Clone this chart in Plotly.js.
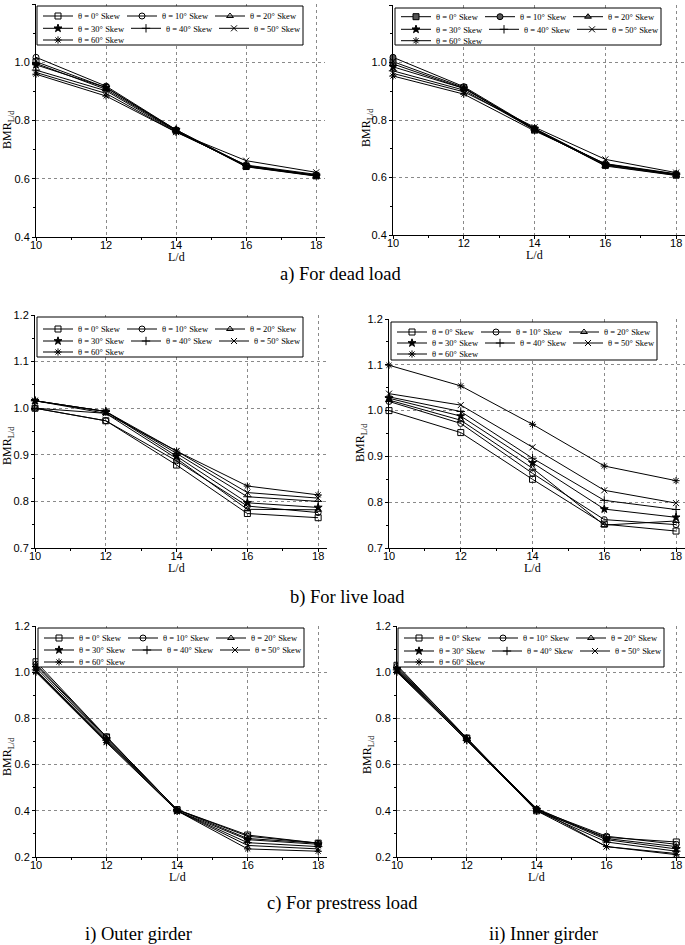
<!DOCTYPE html>
<html><head><meta charset="utf-8">
<script src="https://cdn.plot.ly/plotly-3.0.1.min.js"></script>
<style>html,body{margin:0;padding:0;background:#fff}#chart{width:685px;height:945px}</style>
</head><body><div id="chart"></div>
<script>
// ---------------- DATA ----------------
const ld = [10, 12, 14, 16, 18];
const skewLabels = ['θ = 0° Skew', 'θ = 10° Skew', 'θ = 20° Skew', 'θ = 30° Skew', 'θ = 40° Skew', 'θ = 50° Skew', 'θ = 60° Skew'];
const xTitle = 'L/d';
const yTitle = 'BMR<sub>L/d</sub>';
const captionA = 'a) For dead load';
const captionB = 'b) For live load';
const captionC = 'c) For prestress load';
const captionOuter = 'i) Outer girder';
const captionInner = 'ii) Inner girder';

// rows: 0°,10°,20°,30°,40°,50°,60° ; columns: L/d = 10,12,14,16,18
const deadOuter = [
  [1.002, 0.913, 0.765, 0.642, 0.610],
  [1.017, 0.918, 0.768, 0.645, 0.612],
  [0.996, 0.907, 0.765, 0.641, 0.609],
  [0.991, 0.913, 0.768, 0.643, 0.611],
  [0.973, 0.902, 0.762, 0.645, 0.612],
  [0.965, 0.893, 0.760, 0.662, 0.622],
  [0.959, 0.884, 0.760, 0.647, 0.615]
];
const deadInner = [
  [1.003, 0.913, 0.765, 0.642, 0.608],
  [1.018, 0.916, 0.770, 0.645, 0.611],
  [0.995, 0.910, 0.768, 0.640, 0.607],
  [0.985, 0.910, 0.770, 0.645, 0.610],
  [0.971, 0.904, 0.766, 0.647, 0.611],
  [0.962, 0.898, 0.775, 0.663, 0.617],
  [0.953, 0.890, 0.762, 0.648, 0.613]
];
const liveOuter = [
  [1.000, 0.973, 0.878, 0.774, 0.765],
  [1.000, 0.973, 0.887, 0.790, 0.776],
  [1.000, 0.989, 0.892, 0.783, 0.782],
  [1.016, 0.993, 0.897, 0.797, 0.787],
  [1.016, 0.993, 0.903, 0.810, 0.800],
  [1.016, 0.989, 0.908, 0.819, 0.807],
  [1.016, 0.993, 0.908, 0.833, 0.814]
];
const liveInner = [
  [1.000, 0.952, 0.850, 0.752, 0.737],
  [1.020, 0.972, 0.863, 0.762, 0.751],
  [1.023, 0.979, 0.874, 0.750, 0.759],
  [1.027, 0.988, 0.886, 0.785, 0.767],
  [1.030, 0.998, 0.896, 0.804, 0.784],
  [1.037, 1.012, 0.920, 0.826, 0.798],
  [1.099, 1.054, 0.970, 0.879, 0.847]
];
const prestressOuter = [
  [1.045, 0.720, 0.405, 0.295, 0.260],
  [1.035, 0.720, 0.405, 0.290, 0.260],
  [1.030, 0.715, 0.405, 0.280, 0.260],
  [1.020, 0.710, 0.400, 0.275, 0.255],
  [1.010, 0.705, 0.400, 0.262, 0.245],
  [1.005, 0.700, 0.400, 0.250, 0.235],
  [1.000, 0.695, 0.400, 0.235, 0.225]
];
const prestressInner = [
  [1.030, 0.715, 0.400, 0.285, 0.265],
  [1.025, 0.715, 0.405, 0.290, 0.255],
  [1.020, 0.710, 0.410, 0.280, 0.245],
  [1.015, 0.710, 0.405, 0.275, 0.235],
  [1.010, 0.705, 0.400, 0.265, 0.225],
  [1.005, 0.705, 0.410, 0.245, 0.215],
  [1.000, 0.705, 0.400, 0.245, 0.210]
];

// ---------------- STYLE / LAYOUT ----------------
const W = 685, H = 945;
const SERIF = 'Liberation Serif, Times New Roman, serif';
const SANS = 'Liberation Sans, Arial, sans-serif';
const LEG_SIZE = 8.5;
const openSymbols = ['square-open', 'circle-open', 'triangle-up-open', 'star', 'cross-thin-open', 'x-thin-open', 'asterisk-open'];
const filledSymbols = ['square', 'circle', 'triangle-up', 'star', 'cross-thin-open', 'x-thin-open', 'asterisk-open'];

// pixel geometry of each panel: plot area, legend box, legend rows, axis-title spots
const panels = [
  {data: deadOuter,      yr: [0.4, 1.2], dy: 0.2, px: [36, 325],  py: [4, 237],   box: [37, 6, 45],    rows: [16, 28.3, 40],    sym: openSymbols,   xt: 257, yt: [8, 130]},
  {data: deadInner,      yr: [0.4, 1.2], dy: 0.2, px: [393, 685], py: [5, 235],   box: [395, 8, 45],   rows: [16.7, 29.3, 40.7], sym: filledSymbols, xt: 255, yt: [367, 128]},
  {data: liveOuter,      yr: [0.7, 1.2], dy: 0.1, px: [35, 327],  py: [315, 548], box: [37, 317, 357], rows: [329, 341, 352],   sym: openSymbols,   xt: 568, yt: [8, 446]},
  {data: liveInner,      yr: [0.7, 1.2], dy: 0.1, px: [389, 685], py: [319, 548], box: [391, 322, 360], rows: [332, 343, 354],   sym: openSymbols,   xt: 568, yt: [361, 442]},
  {data: prestressOuter, yr: [0.2, 1.2], dy: 0.2, px: [36, 327],  py: [626, 857], box: [38, 628, 667], rows: [638, 650, 662],   sym: openSymbols,   xt: 877, yt: [8, 757]},
  {data: prestressInner, yr: [0.2, 1.2], dy: 0.2, px: [397, 685], py: [626, 857], box: [398, 628, 667], rows: [638, 651, 662],  sym: openSymbols,   xt: 877, yt: [368, 755]}
];

const measureCtx = document.createElement('canvas').getContext('2d');
measureCtx.font = LEG_SIZE + 'px "Liberation Serif"';
const textW = s => measureCtx.measureText(s).width;

const traces = [];
const layout = {
  width: W, height: H,
  margin: {l: 0, r: 0, t: 0, b: 0},
  paper_bgcolor: 'white', plot_bgcolor: 'white',
  font: {family: SANS, color: 'black'},
  showlegend: true,
  shapes: [], annotations: []
};

let legendCount = 0;
const panelLegends = [];
panels.forEach((p, i) => {
  const n = i + 1;
  const xa = 'xaxis' + (n === 1 ? '' : n), ya = 'yaxis' + (n === 1 ? '' : n);
  const xr = 'x' + (n === 1 ? '' : n), yr = 'y' + (n === 1 ? '' : n);
  layout[xa] = {
    domain: [p.px[0] / W, Math.min(1, p.px[1] / W)],
    range: [10, 18.25], anchor: yr,
    tickmode: 'linear', tick0: 10, dtick: 2,
    ticks: 'outside', ticklen: 3, tickcolor: 'black', ticklabelstandoff: -5,
    minor: {dtick: 1, ticks: 'outside', ticklen: 2, tickcolor: 'black', showgrid: false},
    showline: true, linecolor: 'black', linewidth: 1,
    showgrid: true, gridcolor: '#8a8a8a', griddash: 'dot', gridwidth: 1,
    zeroline: false, automargin: false,
    tickfont: {family: SANS, size: 11, color: 'black'}
  };
  layout[ya] = {
    domain: [1 - p.py[1] / H, 1 - p.py[0] / H],
    range: p.yr, anchor: xr,
    tickmode: 'linear', tick0: p.yr[0], dtick: p.dy, tickformat: '.1f',
    ticks: 'outside', ticklen: 3, tickcolor: 'black',
    minor: {dtick: p.dy / 2, ticks: 'outside', ticklen: 2, tickcolor: 'black', showgrid: false},
    showline: true, linecolor: 'black', linewidth: 1,
    showgrid: true, gridcolor: '#8a8a8a', griddash: 'dot', gridwidth: 1,
    zeroline: false, automargin: false,
    tickfont: {family: SANS, size: 11, color: 'black'}
  };
  // axis titles
  layout.annotations.push({
    text: xTitle, xref: xr, yref: 'paper', x: 14, y: 1 - p.xt / H,
    xanchor: 'center', yanchor: 'middle', showarrow: false,
    font: {family: SERIF, size: 12, color: 'black'}
  });
  layout.annotations.push({
    text: yTitle, xref: 'paper', yref: 'paper', x: p.yt[0] / W, y: 1 - p.yt[1] / H,
    xanchor: 'center', yanchor: 'middle', showarrow: false, textangle: -90,
    font: {family: SERIF, size: 12, color: 'black'}
  });
  // legend box (right edge fitted after render to the legend rows)
  layout.shapes.push({
    type: 'rect', xref: 'paper', yref: 'paper', layer: 'above',
    x0: p.box[0] / W, x1: (p.box[0] + 215) / W, y0: 1 - p.box[2] / H, y1: 1 - p.box[1] / H,
    fillcolor: 'white', line: {color: 'black', width: 1}
  });
  const rowGroups = [[0, 1, 2], [3, 4, 5], [6]];
  const legNames = rowGroups.map((g, r) => {
    legendCount++;
    const name = legendCount === 1 ? 'legend' : 'legend' + legendCount;
    layout[name] = {
      orientation: 'h', x: (p.box[0] + 1) / W, y: 1 - p.rows[r] / H,
      xanchor: 'left', yanchor: 'middle', xref: 'paper', yref: 'paper',
      bgcolor: 'rgba(0,0,0,0)', borderwidth: 0,
      font: {family: SERIF, size: LEG_SIZE, color: 'black'},
      itemwidth: 30, tracegroupgap: 0, itemclick: false, itemdoubleclick: false
    };
    return name;
  });
  panelLegends.push(legNames);
  p.data.forEach((vals, k) => {
    const r = k < 3 ? 0 : (k < 6 ? 1 : 2);
    const sym = p.sym[k];
    const filled = !sym.endsWith('-open');
    traces.push({
      type: 'scatter', mode: 'lines+markers',
      x: ld, y: vals, xaxis: xr, yaxis: yr,
      name: skewLabels[k], legend: legNames[r],
      legendwidth: Math.max(10, Math.round(textW(skewLabels[k])) - 3),
      line: {color: 'black', width: 1},
      marker: {symbol: sym, size: 6, color: (filled && k < 3) ? '#555' : 'black',
               line: {color: 'black', width: 1}},
      cliponaxis: false, hoverinfo: 'skip'
    });
  });
});

const ann = (text, xpx, ypx) => ({
  text, xref: 'paper', yref: 'paper', x: xpx / W, y: 1 - ypx / H,
  xanchor: 'center', yanchor: 'middle', showarrow: false,
  font: {family: SERIF, size: 18.5, color: 'black'}
});
layout.annotations.push(
  ann(captionA, 340, 275),
  ann(captionB, 347, 597),
  ann(captionC, 342, 903),
  ann(captionOuter, 138, 934),
  ann(captionInner, 543, 934)
);

const gd = document.getElementById('chart');
Plotly.newPlot(gd, traces, layout, {staticPlot: true, displayModeBar: false}).then(() => {
  const fl = gd._fullLayout;
  const upd = {};
  panels.forEach((p, i) => {
    let right = p.box[0] + 150;
    panelLegends[i].forEach(name => {
      const lg = fl[name];
      if (lg && lg._width) right = Math.max(right, p.box[0] + 1 + lg._width);
    });
    upd['shapes[' + i + '].x1'] = Math.min(right + 1, W - 2) / W;
  });
  return Plotly.relayout(gd, upd);
});
</script>
</body></html>
